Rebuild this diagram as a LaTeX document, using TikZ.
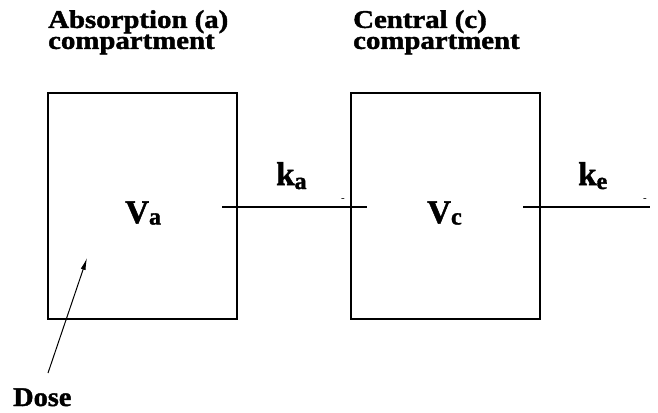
\documentclass[tikz,border=0pt]{standalone}
\usepackage{fontspec}
\usepackage{graphicx}
\setmainfont{Liberation Serif}[BoldFeatures={FakeBold=1.5}]
\usetikzlibrary{arrows.meta}
\begin{document}
\begin{tikzpicture}[x=1pt,y=-1pt,
  box/.style={draw,line width=2pt},
  conn/.style={line width=1.8pt},
  title/.style={font=\fontsize{25.5}{21}\selectfont\bfseries,align=left,anchor=north west,inner sep=0pt},
  lbl/.style={font=\fontsize{33}{33}\selectfont\bfseries,anchor=base west,inner sep=0pt},
  sub/.style={font=\fontsize{24}{24}\selectfont\bfseries},
  tick/.style={font=\fontsize{11}{11}\selectfont,inner sep=0pt}]
\useasboundingbox (0,0) rectangle (658,412);
\draw[box] (48,93) rectangle (237,319);
\draw[box] (351,93) rectangle (540,319);
\node[title] (ta) at (48,10) {\scalebox{1.13}[1]{Absorption (a)}\\\scalebox{1.13}[1]{compartment}};
\node[title] (tc) at (353,10) {\scalebox{1.13}[1]{Central (c)}\\\scalebox{1.13}[1]{compartment}};
\coordinate (a1) at (222,207);
\coordinate (a2) at (367,207);
\coordinate (e1) at (523,207);
\coordinate (e2) at (650,207);
\draw[conn] (a1) -- (a2);
\draw[conn] (e1) -- (e2);
\node[lbl] (va) at (125,223) {V\raisebox{-1.5pt}{\fontsize{24}{24}\selectfont a}};
\node[lbl] (vc) at (427,223) {V\raisebox{-1.5pt}{\fontsize{24}{24}\selectfont c}};
\node[lbl] (ka) at (276,185) {k\raisebox{-4pt}{\fontsize{24}{24}\selectfont a}};
\node[lbl] (ke) at (578,185) {k\raisebox{-4pt}{\fontsize{24}{24}\selectfont e}};
\node[tick] (m1) at (343,200) {-};
\node[tick] (m2) at (645,200) {-};
\node[font=\fontsize{27}{27}\selectfont\bfseries,anchor=base west,inner sep=0pt] (dose) at (13,406) {\scalebox{1.05}[1]{Dose}};
\coordinate (ds) at (48,373);
\coordinate (dt) at (87,258);
\draw[line width=1pt,-{Latex[length=12pt,width=5pt]}] (ds) -- (dt);
\end{tikzpicture}
\end{document}
